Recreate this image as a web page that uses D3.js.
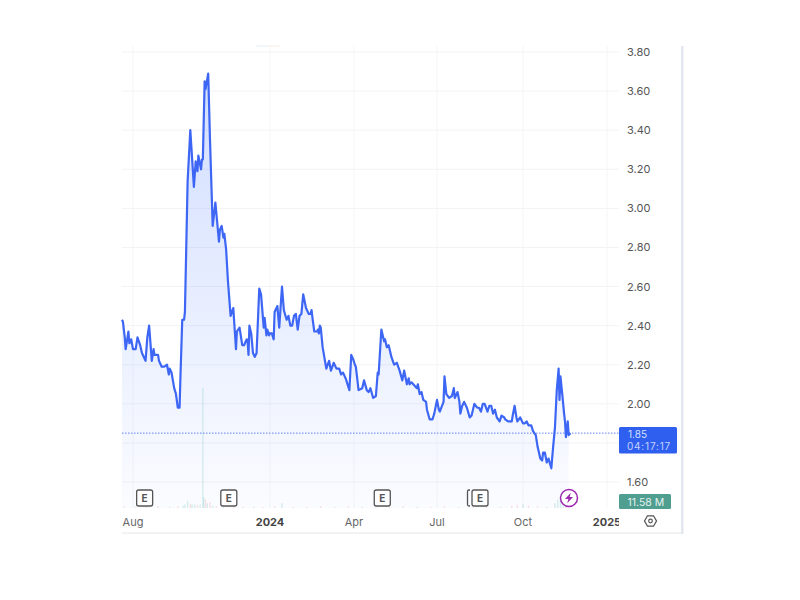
<!DOCTYPE html>
<html>
<head>
<meta charset="utf-8">
<script src="https://cdn.jsdelivr.net/npm/d3@7"></script>
<style>
  html, body { margin: 0; padding: 0; background: #fff; }
  text { font-family: Inter, "Noto Sans", sans-serif; }
</style>
</head>
<body>
<div id="chart"></div>
<script>
// days are counted from 1 Jan 2024
const priceDays = [-165,-164,-162,-161,-158,-157,-155,-153,-150,-148,-145,-143,-139,-137,-135,-134,-132,-130,-129,-125,-124,-121,-118,-115,-113,-112,-110,-107,-105,-103,-101,-100,-98,-96,-95,-92,-89,-85,-83,-81,-80,-77,-76,-75,-73,-72,-69,-67,-64,-61,-60,-57,-56,-54,-52,-51,-49,-47,-44,-41,-38,-37,-34,-31,-29,-26,-25,-24,-23,-21,-19,-17,-15,-12,-10,-7,-6,-4,-3,-1,0,2,4,5,8,10,13,15,18,20,22,24,26,28,30,32,34,36,39,42,44,45,46,48,51,52,53,54,55,57,61,64,66,69,72,75,77,79,82,86,88,90,92,93,96,100,102,105,107,109,112,115,117,118,121,124,125,127,129,132,135,138,141,144,146,149,151,152,154,158,160,161,163,165,167,170,171,174,177,179,182,184,185,189,190,192,195,198,200,201,204,206,207,209,211,214,217,219,222,225,227,229,231,233,236,238,240,242,244,246,249,251,254,255,258,262,263,265,267,268,271,274,276,278,280,283,285,288,290,293,295,296,298,300,302,305,307,309,311,313,314,315,317,319,320,321,323,324,326];
const prices = [2.43,2.42,2.34,2.28,2.37,2.31,2.33,2.28,2.28,2.34,2.30,2.26,2.22,2.34,2.40,2.34,2.22,2.28,2.25,2.25,2.22,2.19,2.19,2.20,2.15,2.18,2.16,2.08,2.05,1.98,1.98,2.14,2.43,2.43,2.47,3.14,3.40,3.11,3.24,3.19,3.27,3.20,3.25,3.25,3.65,3.61,3.69,3.35,2.91,3.03,2.98,2.83,2.89,2.91,2.85,2.87,2.79,2.63,2.45,2.49,2.28,2.37,2.39,2.30,2.30,2.33,2.32,2.25,2.40,2.36,2.26,2.24,2.26,2.59,2.56,2.39,2.44,2.35,2.38,2.35,2.36,2.36,2.33,2.47,2.50,2.39,2.60,2.48,2.43,2.45,2.40,2.40,2.45,2.46,2.38,2.45,2.46,2.56,2.49,2.46,2.46,2.48,2.44,2.37,2.37,2.38,2.36,2.40,2.39,2.29,2.18,2.22,2.17,2.21,2.18,2.18,2.15,2.16,2.13,2.07,2.25,2.23,2.20,2.19,2.07,2.08,2.12,2.07,2.06,2.08,2.03,2.04,2.16,2.15,2.38,2.32,2.33,2.29,2.30,2.24,2.20,2.21,2.17,2.12,2.17,2.10,2.13,2.10,2.11,2.09,2.08,2.10,2.05,2.06,2.02,2.01,1.97,1.92,1.92,1.95,2.02,1.97,1.96,2.01,2.14,2.05,2.03,2.04,2.08,2.03,2.06,2.01,1.95,1.99,2.01,1.98,1.93,1.94,2.00,1.98,1.98,1.96,2.00,2.00,1.96,1.99,1.99,1.95,1.97,1.93,1.91,1.94,1.93,1.92,1.91,1.91,1.94,1.99,1.93,1.91,1.93,1.90,1.90,1.91,1.89,1.89,1.86,1.84,1.78,1.72,1.71,1.75,1.75,1.70,1.72,1.67,1.78,1.88,2.07,2.18,2.02,2.14,2.05,1.95,1.91,1.83,1.91,1.84,1.85];

// volume in millions, up = 1 for a rising session
const volumeDays = [-163,-150,-138,-125,-112,-103,-97,-95,-92,-89,-87,-84,-81,-78,-75,-74,-72,-70,-67,-64,-60,-52,-40,-30,-18,-8,5,13,25,40,55,70,85,100,115,130,145,160,175,190,205,220,235,250,262,268,274,280,290,300,309,312,315,318,321];
const volumes = [1.2,1,1,1.2,1,1.5,2,3,6,3.5,3,3,2.5,3,100,9,7,4,5,2,1.5,1.5,1,1,1,1,1.5,4,1,1,1.5,1,1.5,1,1,1,1.5,1,1,1.5,1,1,1.5,1,2,3,3,2,1.5,1,4,7,11,9,6];
const volumeUp = [0,1,0,0,1,0,1,1,1,0,1,1,0,1,1,1,0,1,0,1,0,1,0,0,1,0,0,1,0,0,0,1,0,1,0,0,0,1,0,0,1,0,0,1,0,0,1,0,0,1,1,1,1,1,0];

const yTicks = [3.8,3.6,3.4,3.2,3.0,2.8,2.6,2.4,2.2,2.0,1.8,1.6];
const yLabels = [3.8,3.6,3.4,3.2,3.0,2.8,2.6,2.4,2.2,2.0,1.6];
const xTickDays = [-153,0,91,182,274,366];
const xTickLabels = ["Aug","2024","Apr","Jul","Oct","2025"];
const earningsDays = [-140,-46,122,228];

const lastPrice = 1.85;
const countdown = "04:17:17";
const lastVolume = "11.58 M";

const width = 800, height = 600;
const plotLeft = 122, plotRight = 619, plotTop = 46, volumeBase = 508, axisBottom = 533;

const svg = d3.select("#chart")
    .append("svg")
        .attr("width", width)
        .attr("height", height)
        .style("display", "block");

// the axis is session based so the months are not quite even
const x = d3.scaleLinear()
    .domain([-165,-153,0,91,182,274,366,379])
    .range([122,133,270,354,437,523,607,619]);
const y = d3.scaleLinear()
    .domain([3.8,1.6])
    .range([52,482]);
const v = d3.scaleLinear()
    .domain([0,100])
    .range([volumeBase,volumeBase-120]);

const defs = svg.append("defs");
const grad = defs.append("linearGradient")
    .attr("id","fade")
    .attr("gradientUnits","userSpaceOnUse")
    .attr("x1",0).attr("x2",0)
    .attr("y1",y(3.69)).attr("y2",volumeBase);
grad.append("stop").attr("offset","0%").attr("stop-color","#2962ff").attr("stop-opacity",0.21);
grad.append("stop").attr("offset","100%").attr("stop-color","#2962ff").attr("stop-opacity",0.02);

defs.append("clipPath").attr("id","xclip")
    .append("rect")
        .attr("x",plotLeft).attr("y",volumeBase)
        .attr("width",plotRight-plotLeft).attr("height",axisBottom-volumeBase);

// grid
svg.append("g").selectAll("line")
    .data(yTicks)
    .enter().append("line")
        .attr("x1",plotLeft).attr("x2",plotRight)
        .attr("y1",d => y(d)).attr("y2",d => y(d))
        .attr("stroke","#f3f3f6");
svg.append("g").selectAll("line")
    .data(xTickDays)
    .enter().append("line")
        .attr("x1",d => x(d)).attr("x2",d => x(d))
        .attr("y1",plotTop).attr("y2",volumeBase)
        .attr("stroke","#f5f5f8");

// little mark left at the top of the pane
svg.append("line").attr("x1",256).attr("x2",268).attr("y1",46).attr("y2",46).attr("stroke","#e4eef5");
svg.append("line").attr("x1",268).attr("x2",280).attr("y1",46).attr("y2",46).attr("stroke","#f7ece4");

// area and line, the fill stops one session short of the line
const idx = d3.range(priceDays.length);
const area = d3.area()
    .x(i => x(priceDays[i]))
    .y0(volumeBase)
    .y1(i => y(prices[i]));
const line = d3.line()
    .x(i => x(priceDays[i]))
    .y(i => y(prices[i]));

svg.append("path").attr("d",area(idx.slice(0,-1))).attr("fill","url(#fade)");

// volume
svg.append("g").selectAll("rect")
    .data(volumeDays)
    .enter().append("rect")
        .attr("x",d => x(d)-0.7)
        .attr("width",1.4)
        .attr("y",(d,i) => v(volumes[i]))
        .attr("height",(d,i) => volumeBase-v(volumes[i]))
        .attr("fill",(d,i) => volumeUp[i] ? "#26a69a" : "#ef5350")
        .attr("opacity",0.17);

// last price line
svg.append("line")
    .attr("x1",plotLeft).attr("x2",plotRight)
    .attr("y1",y(lastPrice)).attr("y2",y(lastPrice))
    .attr("stroke","#3d66f5")
    .attr("stroke-width",1)
    .attr("stroke-dasharray","1.5,1.5")
    .attr("opacity",0.8);

svg.append("path")
    .attr("d",line(idx))
    .attr("fill","none")
    .attr("stroke","#3d66f5")
    .attr("stroke-width",2.2)
    .attr("stroke-linejoin","round");

// y labels
svg.append("g").selectAll("text")
    .data(yLabels)
    .enter().append("text")
        .attr("x",627)
        .attr("y",d => y(d)+4)
        .attr("font-size",11)
        .attr("fill","#555")
        .text(d => d.toFixed(2));

// x labels
svg.append("g").attr("clip-path","url(#xclip)").selectAll("text")
    .data(xTickDays)
    .enter().append("text")
        .attr("x",d => x(d))
        .attr("y",526)
        .attr("text-anchor","middle")
        .attr("font-size",11)
        .attr("font-weight",(d,i) => /^\d/.test(xTickLabels[i]) ? 700 : 400)
        .attr("fill",(d,i) => /^\d/.test(xTickLabels[i]) ? "#444" : "#666")
        .text((d,i) => xTickLabels[i]);

// earnings markers
const marks = svg.append("g").selectAll("g")
    .data(earningsDays)
    .enter().append("g")
        .attr("transform",d => "translate(" + x(d) + ",498)");
marks.append("rect")
    .attr("x",-8).attr("y",-8)
    .attr("width",16).attr("height",16)
    .attr("rx",2)
    .attr("fill","#fff")
    .attr("stroke","#555")
    .attr("stroke-width",1.3);
marks.append("text")
    .attr("y",3.5)
    .attr("text-anchor","middle")
    .attr("font-size",10)
    .attr("font-weight",700)
    .attr("fill","#555")
    .text("E");
// the second box hiding behind the last one
svg.append("path")
    .attr("d","M470,490h-1a1.5,1.5 0 0 0 -1.5,1.5v13a1.5,1.5 0 0 0 1.5,1.5h1")
    .attr("fill","none")
    .attr("stroke","#555")
    .attr("stroke-width",1.3);

// lightning badge
const bolt = svg.append("g").attr("transform","translate(569,498)");
bolt.append("circle")
    .attr("r",8.5)
    .attr("fill","#fff")
    .attr("stroke","#9c27b0")
    .attr("stroke-width",1.5);
bolt.append("path")
    .attr("d","M1.8,-5.2L-4,1H-0.6L-1.8,5.2L4,-1H0.6Z")
    .attr("fill","#9c27b0");

// price tag
svg.append("rect")
    .attr("x",619).attr("y",427)
    .attr("width",58).attr("height",26.5)
    .attr("rx",1.5)
    .attr("fill","#2f5fef");
svg.append("text")
    .attr("x",628).attr("y",437.5)
    .attr("font-size",10)
    .attr("fill","#d6e0fd")
    .text(lastPrice.toFixed(2));
svg.append("text")
    .attr("x",627).attr("y",450)
    .attr("font-size",10)
    .attr("letter-spacing",0.8)
    .attr("fill","#c4d2fc")
    .text(countdown);

// volume tag
svg.append("rect")
    .attr("x",619).attr("y",494)
    .attr("width",52).attr("height",15)
    .attr("rx",1.5)
    .attr("fill","#4f9e8f");
svg.append("text")
    .attr("x",627.5).attr("y",505.5)
    .attr("font-size",10.5)
    .attr("fill","#e4f3f0")
    .text(lastVolume);

// settings icon
const gear = svg.append("g").attr("transform","translate(650.5,521)");
gear.append("path")
    .attr("d","M-6,0L-3,-5.2H3L6,0L3,5.2H-3Z")
    .attr("fill","none")
    .attr("stroke","#555")
    .attr("stroke-width",1.3);
gear.append("circle")
    .attr("r",1.8)
    .attr("fill","none")
    .attr("stroke","#555")
    .attr("stroke-width",1.2);

// frame
svg.append("line")
    .attr("x1",plotLeft).attr("x2",683)
    .attr("y1",axisBottom).attr("y2",axisBottom)
    .attr("stroke","#e6e6ea");
svg.append("rect")
    .attr("x",681).attr("y",46)
    .attr("width",2.5).attr("height",488)
    .attr("fill","#e4e6f0");
</script>
</body>
</html>
